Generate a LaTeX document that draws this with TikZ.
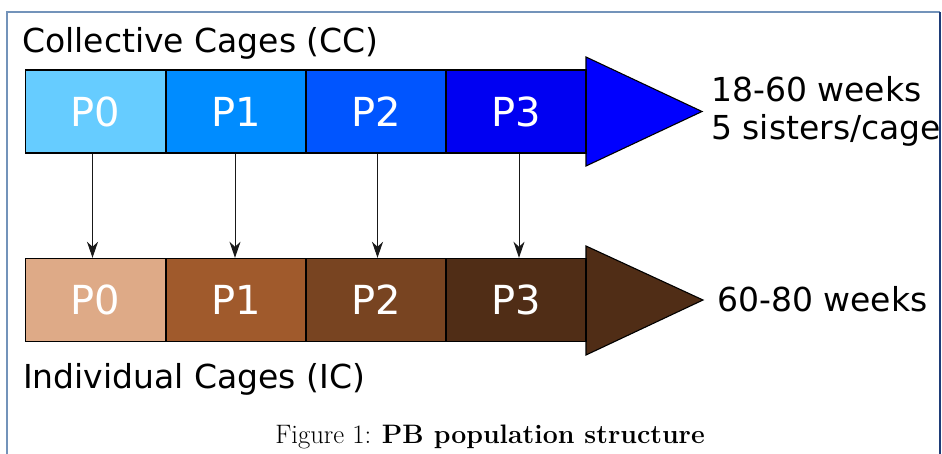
\documentclass[tikz,border=0pt]{standalone}
\usepackage{fontspec}
\newfontfamily\dv{DejaVu Sans}
\newfontfamily\lmr{Latin Modern Roman}
\usetikzlibrary{arrows.meta}
\definecolor{tA}{HTML}{66CCFF}
\definecolor{tB}{HTML}{008CFF}
\definecolor{tC}{HTML}{0055FF}
\definecolor{tD}{HTML}{0000F2}
\definecolor{tH}{HTML}{0000FF}
\definecolor{bA}{HTML}{DEAA87}
\definecolor{bB}{HTML}{A05A2C}
\definecolor{bC}{HTML}{784421}
\definecolor{bD}{HTML}{502D16}
\definecolor{frameA}{HTML}{7393BA}
\definecolor{frameB}{HTML}{1E3C78}
\tikzset{
  cell/.style={draw=black, line width=1.4pt, minimum width=140pt, minimum height=83pt, inner sep=0pt,
    text=white, font=\dv\fontsize{40}{46}\selectfont},
  head/.style={draw=black, line width=1.1pt, line join=miter},
  lbl/.style={inner sep=0pt, font=\dv\fontsize{33}{38}\selectfont},
  link/.style={draw=black!90, line width=1pt, -{Stealth[length=16pt,width=11pt,inset=5pt]}}
}
\begin{document}
\begin{tikzpicture}[x=1pt,y=-1pt]
\useasboundingbox (0,0) rectangle (942,454);
% frame
\draw[frameA, line width=1.6pt] (7,454) -- (7,12) -- (940,12);
\draw[frameB, line width=1.6pt] (940,12) -- (940,454);
% heads
\draw[head, fill=tH] (586,57) -- (702,111.5) -- (586,166) -- cycle;
\draw[head, fill=bD] (586,246) -- (703,300) -- (586,355) -- cycle;
% top cells
\node[cell, fill=tA] (t0) at (95.5,111.5) {P0};
\node[cell, fill=tB] (t1) at (236,111.5) {P1};
\node[cell, fill=tC] (t2) at (376,111.5) {P2};
\node[cell, fill=tD] (t3) at (516,111.5) {P3};
% bottom cells
\node[cell, fill=bA] (b0) at (95.5,300) {P0};
\node[cell, fill=bB] (b1) at (236,300) {P1};
\node[cell, fill=bC] (b2) at (376,300) {P2};
\node[cell, fill=bD] (b3) at (516,300) {P3};
% links
\draw[link] ([xshift=-3pt]t0.south) -- ([xshift=-3pt]b0.north);
\draw[link] ([xshift=-1pt]t1.south) -- ([xshift=-1pt]b1.north);
\draw[link] ([xshift=1.5pt]t2.south) -- ([xshift=1.5pt]b2.north);
\draw[link] ([xshift=3pt]t3.south) -- ([xshift=3pt]b3.north);
% labels
\node[lbl, anchor=base west] (cc) at (22,53) {Collective Cages (CC)};
\node[lbl, anchor=base west] (ic) at (23,388) {Individual Cages (IC)};
\node[lbl, anchor=base west, align=left] (tr) at (711,140) {18-60 weeks\\5 sisters/cage};
\node[lbl, anchor=base west] (br) at (717,312) {60-80 weeks};
\node[inner sep=0pt, anchor=base, font=\lmr\fontsize{26.7}{32}\selectfont] (cap) at (490,443) {Figure 1: \textbf{PB population structure}};
\end{tikzpicture}
\end{document}
